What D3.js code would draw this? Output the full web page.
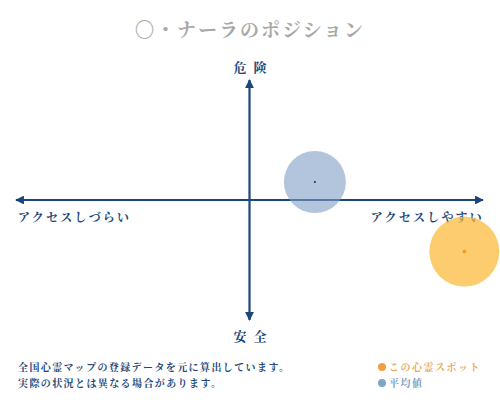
<!DOCTYPE html>
<html lang="ja">
<head>
<meta charset="UTF-8">
<script src="https://d3js.org/d3.v7.min.js"></script>
<style>
  body { margin: 0; background: #fff; }
  svg text { font-family: "Noto Serif CJK JP", "Noto Sans CJK JP", sans-serif; }
</style>
</head>
<body>
<svg width="500" height="400"></svg>
<script>
// data
const title = "〇・ナーラのポジション";
const axisLabels = { top: "危険", bottom: "安全", left: "アクセスしづらい", right: "アクセスしやすい" };
const spotNames = ["平均値", "この心霊スポット"];
const spotX = [0.28, 0.92];
const spotY = [0.15, -0.43];
const spotColors = ["#7f9fc4", "#fbb731"];
const spotDots = ["#1a2a40", "#f29a1e"];
const notes = ["全国心霊マップの登録データを元に算出しています。", "実際の状況とは異なる場合があります。"];
const legendNames = ["この心霊スポット", "平均値"];
const legendColors = ["#f0a040", "#7fa6c9"];
const legendText = ["#e8a85a", "#7f9fc0"];

const navy = "#1b4678";
const svg = d3.select("svg");

const x = d3.scaleLinear().domain([-1, 1]).range([16, 483]);
const y = d3.scaleLinear().domain([-1, 1]).range([320, 80]);

// title
svg.append("text").attr("x", 250).attr("y", 37).attr("text-anchor", "middle")
  .attr("fill", "#a8a8a8").attr("font-size", 19).attr("font-weight", "bold")
  .attr("letter-spacing", 2).text(title);

// axes
const defs = svg.append("defs");
defs.append("marker").attr("id", "arr").attr("viewBox", "0 0 10 10")
  .attr("refX", 9).attr("refY", 5).attr("markerWidth", 4).attr("markerHeight", 4)
  .attr("orient", "auto-start-reverse")
  .append("path").attr("d", "M0,0 L10,5 L0,10 z").attr("fill", navy);

svg.append("line").attr("x1", x(-1)).attr("x2", x(1)).attr("y1", y(0)).attr("y2", y(0))
  .attr("stroke", navy).attr("stroke-width", 2.2)
  .attr("marker-start", "url(#arr)").attr("marker-end", "url(#arr)");
svg.append("line").attr("x1", x(0)).attr("x2", x(0)).attr("y1", y(1)).attr("y2", y(-1))
  .attr("stroke", navy).attr("stroke-width", 2.2)
  .attr("marker-start", "url(#arr)").attr("marker-end", "url(#arr)");

// axis labels
const lab = (t, px, py, anchor, ls, fs) => svg.append("text").attr("x", px).attr("y", py)
  .attr("text-anchor", anchor).attr("fill", navy).attr("font-size", fs)
  .attr("font-weight", "bold").attr("letter-spacing", ls).text(t);
lab(axisLabels.top, x(0) + 4, 72, "middle", 7, 13);
lab(axisLabels.bottom, x(0) + 4, 341, "middle", 7, 13);
lab(axisLabels.left, 18, 222, "start", 2.2, 12);
lab(axisLabels.right, 484, 222, "end", 2.2, 12);

// spots
const spots = spotNames.map((n, i) => ({ name: n, x: spotX[i], y: spotY[i], c: spotColors[i], d: spotDots[i] }));
svg.selectAll(".spot").data(spots).join("circle").attr("class", "spot")
  .attr("cx", d => x(d.x)).attr("cy", d => y(d.y))
  .attr("r", (d, i) => i === 0 ? 31 : 35)
  .attr("fill", d => d.c).attr("opacity", (d, i) => i === 0 ? 0.6 : 0.7);
svg.selectAll(".dot").data(spots).join("circle").attr("class", "dot")
  .attr("cx", d => x(d.x)).attr("cy", d => y(d.y))
  .attr("r", (d, i) => i === 0 ? 1 : 1.8).attr("fill", d => d.d);

// notes
svg.selectAll(".note").data(notes).join("text").attr("class", "note")
  .attr("x", 18).attr("y", (d, i) => 371 + i * 16)
  .attr("fill", navy).attr("font-size", 10).attr("font-weight", "bold")
  .attr("letter-spacing", 1.4).text(d => d);

// legend
const lg = svg.selectAll(".lg").data(legendNames).join("g").attr("class", "lg")
  .attr("transform", (d, i) => `translate(382,${367 + i * 16})`);
lg.append("circle").attr("r", 4).attr("fill", (d, i) => legendColors[i]);
lg.append("text").attr("x", 7).attr("y", 4).attr("font-size", 10).attr("font-weight", "bold")
  .attr("letter-spacing", 1.5).attr("fill", (d, i) => legendText[i]).text(d => d);
</script>
</body>
</html>
